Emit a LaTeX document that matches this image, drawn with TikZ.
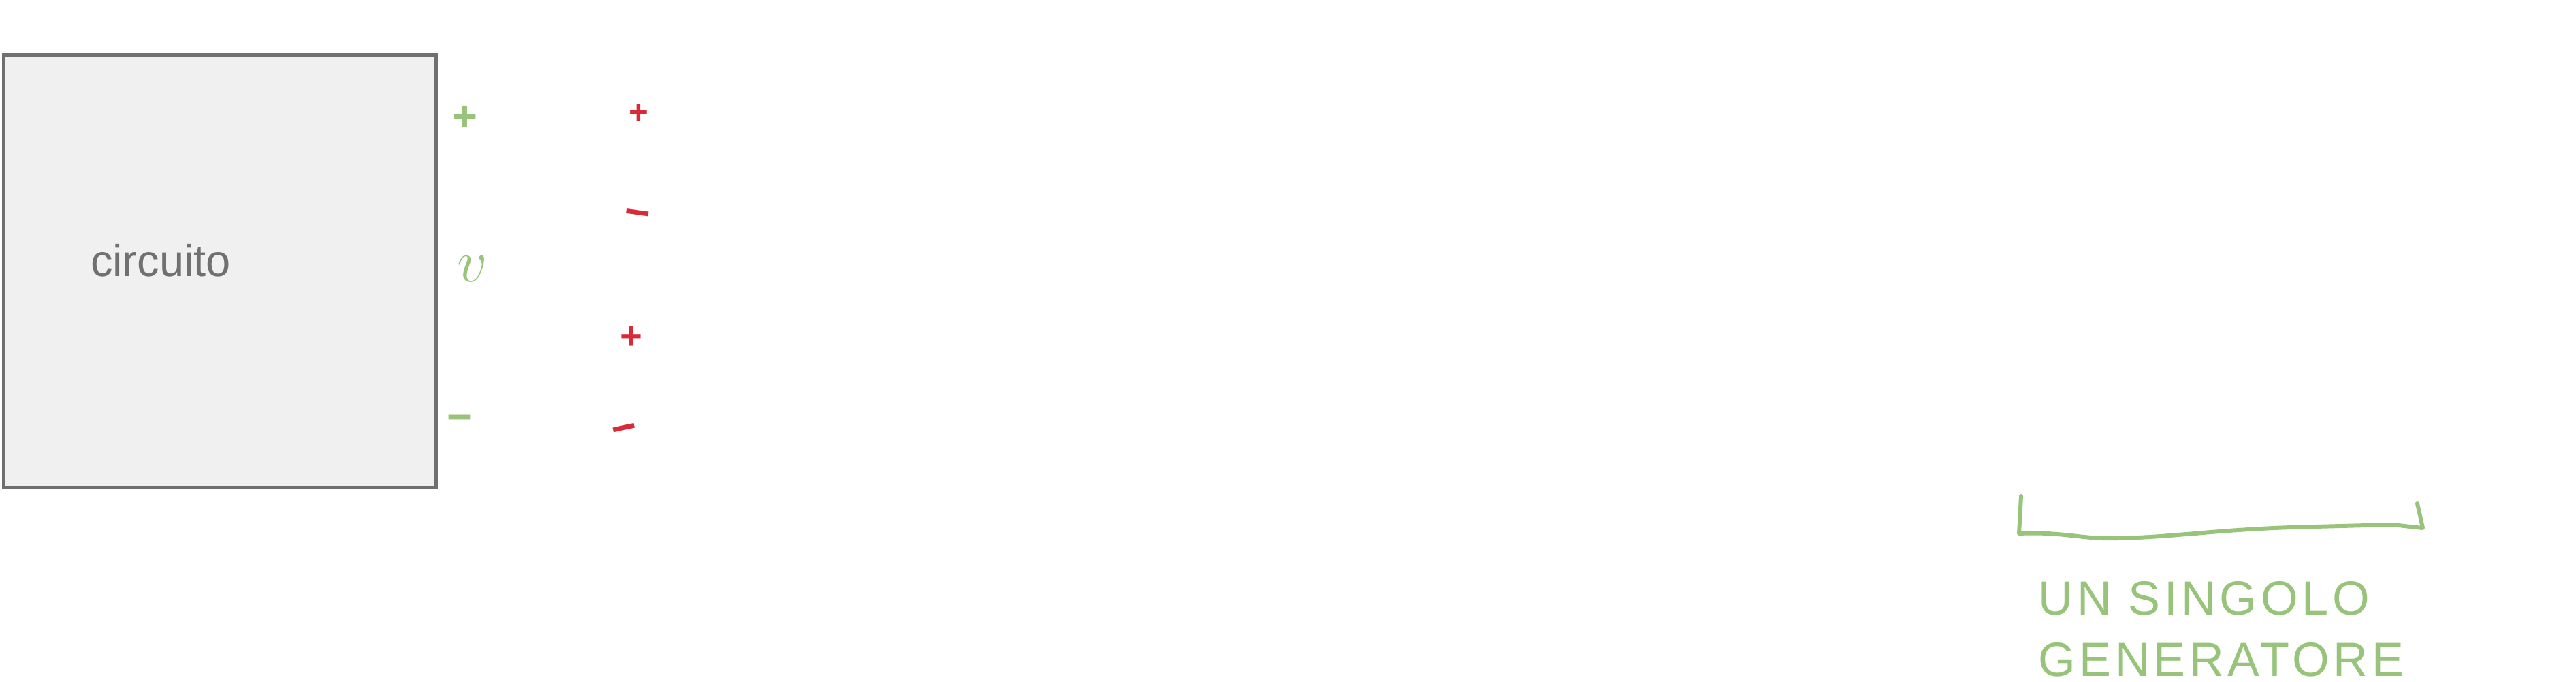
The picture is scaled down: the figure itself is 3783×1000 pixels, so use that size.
\documentclass[tikz,border=0pt]{standalone}
\usepackage{fontspec}
\setmainfont{Liberation Sans}
\usetikzlibrary{positioning,calc}
\definecolor{cgray}{HTML}{707070}
\definecolor{cfill}{HTML}{F0F0F0}
\definecolor{cgreen}{HTML}{97C47A}
\definecolor{cred}{HTML}{D92A3A}
\tikzset{
  blockbox/.style={rectangle, draw=cgray, fill=cfill, line width=1.5pt,
                   minimum width=63.5mm, minimum height=63.5mm, inner sep=0pt},
  lbl/.style={font=\fontsize{18.5}{22}\selectfont, text=cgray, inner sep=0pt},
  sgn/.style={font=\fontsize{18}{20}\selectfont\bfseries, inner sep=0pt},
  gsg/.style={sgn, text=cgreen},
  rsg/.style={sgn, text=cred},
  note/.style={font=\fontsize{20}{25.5}\selectfont\addfontfeature{LetterSpace=8},
               text=cgreen, align=left, inner sep=0pt},
  brc/.style={draw=cgreen, line width=1.7pt, line cap=round, line join=round},
}

\begin{document}
\begin{tikzpicture}[x=0.1mm,y=-0.1mm]
\useasboundingbox (0,0) rectangle (3783,1000);

% ---------- circuit block ----------
\node[blockbox,anchor=north west] (blk) at (3,78) {};
\node[lbl] (name) at (236,382) {circuito};

% ---------- port voltage ----------
\node[gsg] (vp) at (683,174) {+};
\node[gsg,font=\fontsize{24}{26}\selectfont] (vv) at (694,395) {$v$};
\node[gsg] (vm) at (675,621) {−};

% ---------- red signs ----------
\node[rsg,font=\fontsize{14}{16}\selectfont\bfseries] (ra) at (938,167) {+};
\node[rsg,rotate=-8] (rb) at (935,321) {−};
\node[rsg,font=\fontsize{16}{18}\selectfont\bfseries] (rc) at (927,496) {+};
\node[rsg,rotate=12] (rd) at (918,637) {−};

% ---------- brace ----------
\coordinate (bl) at (2968,728);
\coordinate (br) at (3550,739);
\draw[brc] (bl) -- (2965,783) .. controls (3030,780) and (3060,792) .. (3110,790)
   .. controls (3200,788) and (3260,776) .. (3400,773) -- (3513,770) -- (3558,775) -- (br);
\node[note,anchor=north west] (txt) at (2993,853) {UN SINGOLO\\GENERATORE};
\end{tikzpicture}
\end{document}
